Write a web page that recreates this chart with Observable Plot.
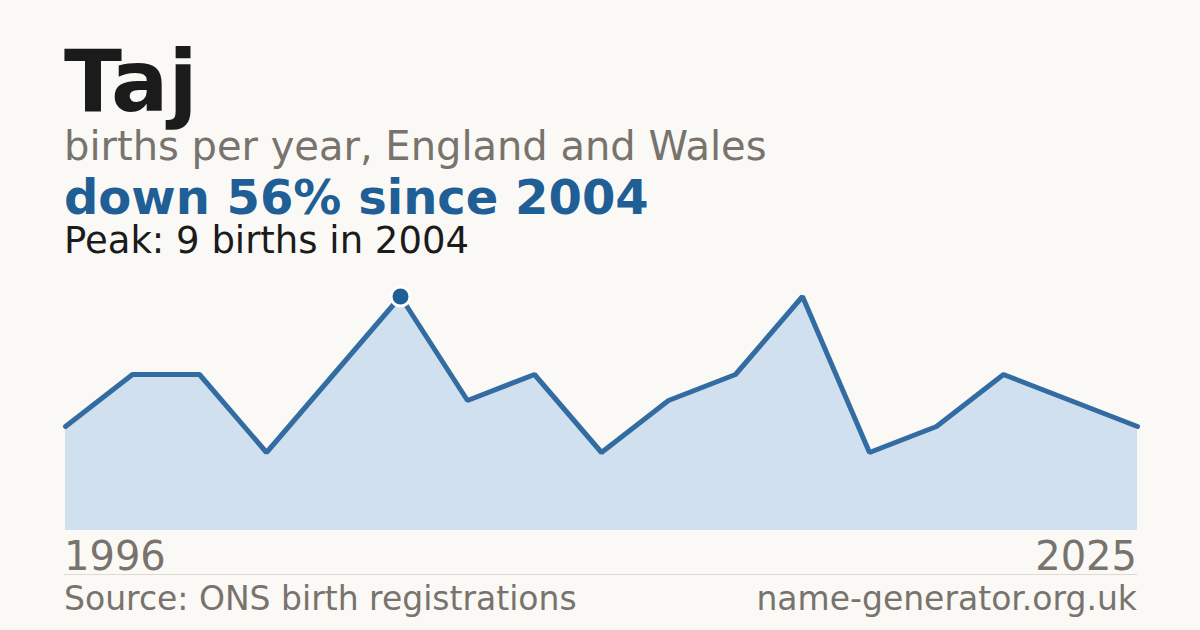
<!DOCTYPE html>
<html>
<head>
<meta charset="utf-8">
<script src="https://cdn.jsdelivr.net/npm/d3@7"></script>
<script src="https://cdn.jsdelivr.net/npm/@observablehq/plot@0.6"></script>
<style>
  html, body { margin: 0; padding: 0; }
  body { width: 1200px; height: 630px; background: #faf9f5; font-family: "DejaVu Sans", sans-serif; position: relative; overflow: hidden; }
  .t { position: absolute; left: 64px; white-space: nowrap; line-height: 0.85; }
  #title { top: 46px; font-size: 85px; font-weight: bold; color: #1b1b1b; }
  #sub { top: 129px; font-size: 40px; color: #78736c; }
  #trend { top: 177px; font-size: 48px; font-weight: bold; color: #1f5f96; }
  #peak { top: 225px; font-size: 37px; color: #1b1b1b; }
  #chart { position: absolute; left: 0; top: 280px; }
  #years { position: absolute; left: 64px; width: 1073px; top: 539px; display: flex; justify-content: space-between; font-size: 40px; color: #78736c; line-height: 0.85; }
  #rule { position: absolute; left: 64px; width: 1073px; top: 574px; height: 1px; background: #dedad3; }
  #foot { position: absolute; left: 64px; width: 1073px; top: 585px; display: flex; justify-content: space-between; font-size: 33px; color: #78736c; line-height: 0.85; }
</style>
</head>
<body>
<div class="t" id="title"></div>
<div class="t" id="sub"></div>
<div class="t" id="trend"></div>
<div class="t" id="peak"></div>
<div id="chart"></div>
<div id="years"><span id="y0"></span><span id="y1"></span></div>
<div id="rule"></div>
<div id="foot"><span id="src"></span><span id="site"></span></div>
<script>
const nameText = "Taj";
const subtitle = "births per year, England and Wales";
const sourceText = "Source: ONS birth registrations";
const siteText = "name-generator.org.uk";
// years with recorded births (evenly spaced in the chart)
const years = [1996, 1998, 2000, 2001, 2003, 2004, 2006, 2008, 2010, 2012, 2014, 2016, 2018, 2020, 2022, 2024, 2025];
const births = [4, 6, 6, 3, 6, 9, 5, 6, 3, 5, 6, 9, 3, 4, 6, 5, 4];

const data = years.map((y, i) => ({year: y, births: births[i]}));
let peakIdx = 0;
births.forEach((b, i) => { if (b > births[peakIdx]) peakIdx = i; });
const peak = data[peakIdx];
const last = data[data.length - 1];
const change = Math.round((peak.births - last.births) / peak.births * 100);

document.getElementById("title").textContent = nameText;
document.getElementById("sub").textContent = subtitle;
document.getElementById("trend").textContent = `down ${change}% since ${peak.year}`;
document.getElementById("peak").textContent = `Peak: ${peak.births} births in ${peak.year}`;
document.getElementById("y0").textContent = years[0];
document.getElementById("y1").textContent = years[years.length - 1];
document.getElementById("src").textContent = sourceText;
document.getElementById("site").textContent = siteText;

const chart = Plot.plot({
  width: 1200,
  height: 260,
  marginLeft: 64,
  marginRight: 63,
  marginTop: 16,
  marginBottom: 10,
  style: { background: "transparent", overflow: "visible" },
  x: { type: "point", domain: years, padding: 0, axis: null },
  y: { domain: [0, 9], axis: null },
  marks: [
    Plot.areaY(data, { x: "year", y: "births", fill: "#d0e0ef" }),
    Plot.lineY(data, { x: "year", y: "births", stroke: "#336ca2", strokeWidth: 5, strokeLinejoin: "miter" }),
    Plot.dot([peak], { x: "year", y: "births", r: 9.5, fill: "#1f5f96", stroke: "#ffffff", strokeWidth: 3 })
  ]
});
document.getElementById("chart").appendChild(chart);
</script>
</body>
</html>
